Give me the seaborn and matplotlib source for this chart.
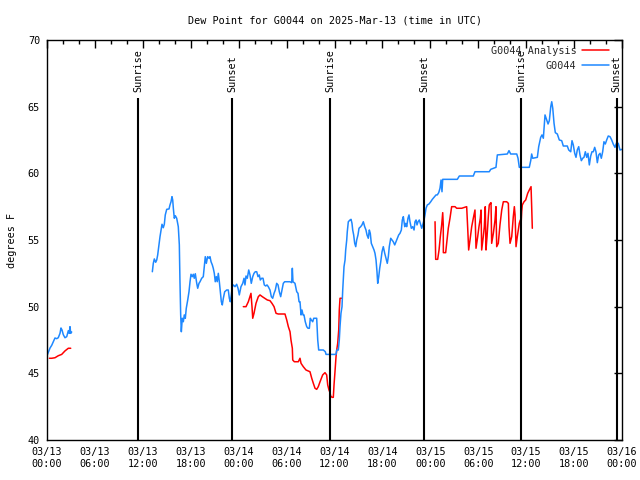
import pandas as pd
import numpy as np
import matplotlib
matplotlib.use("Agg")
import matplotlib.pyplot as plt
import matplotlib.dates as mdates
import seaborn as sns

# hours after 2025-03-13 00:00 UTC, dew point in degrees F
obs_hours_a = [0.05, 0.38, 0.59, 0.79, 1.0, 1.21, 1.41, 1.63, 1.75, 1.88, 2.04, 2.25,
               2.47, 2.67, 2.79, 2.88, 2.97, 3.09]
obs_vals_a = [46.4, 46.9, 47.1, 47.37, 47.65, 47.6, 47.67, 48.0, 48.4, 48.25, 47.9, 47.67,
              47.75, 48.2, 48.0, 48.5, 48.0, 48.1]

obs_hours_b = [13.19, 13.31, 13.44, 13.61, 13.74, 13.86, 14.02, 14.15, 14.28, 14.40, 14.56, 14.69,
               14.81, 14.99, 15.28, 15.40, 15.53, 15.65, 15.74, 15.82, 15.94, 16.07, 16.24, 16.44,
               16.57, 16.65, 16.74, 16.82, 16.94, 17.07, 17.19, 17.32, 17.44, 17.62, 17.78, 17.91,
               18.03, 18.19, 18.32, 18.44, 18.57, 18.75, 18.87, 19.03, 19.16, 19.37, 19.57, 19.70,
               19.82, 19.95, 20.12, 20.29, 20.41, 20.54, 20.70, 20.82, 20.95, 21.07, 21.20, 21.32,
               21.45, 21.58, 21.70, 21.83, 21.95, 22.08, 22.25, 22.50, 22.70, 22.83, 22.95, 23.08,
               23.20, 23.33, 23.54, 23.75, 23.92, 24.08, 24.29, 24.51, 24.67, 24.79, 24.92, 25.08,
               25.26, 25.42, 25.58, 25.76, 25.92, 26.08, 26.26, 26.42, 26.58, 26.71, 26.88, 27.05,
               27.21, 27.39, 27.55, 27.71, 27.92, 28.09, 28.26, 28.43, 28.59, 28.76, 28.93, 29.09,
               29.26, 29.43, 29.59, 29.76, 30.02, 30.43, 30.64, 30.72, 30.80, 31.05, 31.27, 31.43,
               31.56, 31.68, 31.81, 31.93, 32.06, 32.18, 32.34, 32.52, 32.68, 32.85, 32.97, 33.10,
               33.27, 33.40, 33.56, 33.77, 33.90, 34.02, 34.60, 34.85, 34.94, 36.19, 36.28, 36.48,
               36.60, 36.69, 36.81, 36.94, 37.03, 37.10, 37.19, 37.32, 37.40, 37.53, 37.60, 37.73,
               37.94, 38.07, 38.19, 38.28, 38.40, 38.53, 38.66, 38.78, 38.94, 39.07, 39.28, 39.44,
               39.61, 39.78, 39.94, 40.07, 40.23, 40.36, 40.48, 40.61, 40.78, 40.95, 41.07, 41.20,
               41.32, 41.41, 41.54, 41.66, 41.79, 41.95, 42.11, 42.29, 42.45, 42.61, 42.74, 42.86,
               43.04, 43.20, 43.36, 43.54, 43.70, 43.86, 44.04, 44.20, 44.37, 44.49, 44.62, 44.79,
               44.92, 45.04, 45.20, 45.33, 45.45, 45.62, 45.79, 45.96, 46.08, 46.21, 46.33, 46.46,
               46.62, 46.74, 46.92, 47.05, 47.21, 47.33, 47.46, 47.62, 47.83, 48.05, 48.25, 48.46,
               48.71, 48.87, 49.05, 49.21, 49.34, 49.46, 49.55, 49.71, 51.38, 51.63, 53.38, 53.59,
               55.38, 55.56, 56.22, 56.39, 57.64, 57.85, 58.06, 58.82, 58.98, 59.14, 60.39, 60.57,
               60.69, 60.82, 61.40, 61.57, 61.82, 61.98, 62.15, 62.36, 62.57, 62.74, 62.90, 63.08,
               63.20, 63.33, 63.49, 63.65, 63.90, 64.15, 64.45, 64.65, 65.15, 65.33, 65.58, 65.74,
               65.90, 66.08, 66.24, 66.40, 66.58, 66.74, 66.91, 67.08, 67.24, 67.41, 67.58, 67.74,
               67.91, 68.08, 68.24, 68.41, 68.58, 68.74, 68.91, 69.08, 69.25, 69.41, 69.58, 69.74,
               69.91, 70.08, 70.28, 70.50, 70.71, 70.90, 71.12, 71.33, 71.53, 71.75, 72.0]
obs_vals_b = [52.62, 53.25, 53.58, 53.33, 53.5, 53.88, 54.63, 55.25, 55.75, 56.18, 55.92, 56.18,
              56.88, 57.3, 57.33, 57.63, 57.87, 58.25, 58.0, 57.38, 56.63, 56.82, 56.63, 56.0,
              54.63, 51.87, 49.38, 48.12, 49.13, 48.87, 49.38, 49.13, 49.88, 50.5, 51.12, 51.87,
              52.43, 52.25, 52.43, 52.13, 52.47, 51.75, 51.38, 51.75, 51.87, 52.13, 52.25, 53.0,
              53.75, 53.25, 53.75, 53.63, 53.75, 53.37, 53.13, 52.88, 52.5, 51.87, 52.25, 51.87,
              52.5, 51.87, 51.12, 50.37, 50.13, 50.63, 51.12, 51.25, 51.25, 50.63, 50.37, 50.88,
              51.5, 51.63, 51.5, 51.68, 51.38, 50.88, 51.5, 51.75, 52.13, 51.63, 52.3, 52.13,
              52.75, 52.38, 51.75, 52.25, 52.5, 52.62, 52.62, 52.25, 52.38, 52.0, 52.13, 52.13,
              51.63, 51.55, 51.63, 51.5, 51.25, 50.75, 50.63, 51.0, 51.25, 51.75, 51.63, 51.12,
              50.75, 51.25, 51.75, 51.87, 51.87, 51.87, 51.8, 52.88, 51.87, 51.75, 51.12, 51.0,
              50.37, 50.37, 49.38, 49.75, 49.38, 49.38, 48.87, 48.5, 48.38, 48.38, 49.13, 49.0,
              48.87, 49.13, 49.13, 49.13, 47.5, 46.75, 46.75, 46.62, 46.42, 46.42, 46.75, 46.75,
              47.5, 48.5, 49.5, 50.0, 51.25, 52.0, 53.0, 53.5, 54.25, 55.0, 55.62, 56.37,
              56.5, 56.55, 56.25, 55.75, 55.38, 54.75, 54.5, 55.0, 55.38, 55.88, 56.0, 56.13,
              56.37, 56.0, 55.75, 55.38, 55.13, 55.75, 55.5, 54.75, 54.5, 54.25, 54.0, 53.5,
              52.62, 51.75, 52.25, 52.88, 53.37, 54.12, 54.5, 54.0, 53.63, 53.25, 53.75, 54.5,
              55.13, 55.0, 54.87, 54.63, 54.87, 55.13, 55.38, 55.5, 55.75, 56.5, 56.75, 56.0,
              56.25, 56.0, 56.63, 56.88, 56.37, 55.88, 56.0, 55.75, 56.37, 56.5, 56.13, 56.37,
              56.5, 56.25, 55.88, 56.13, 56.5, 56.88, 57.38, 57.63, 57.7, 57.87, 58.05, 58.2,
              58.38, 58.38, 58.55, 58.88, 59.5, 58.62, 59.55, 59.55, 59.55, 59.8, 59.8, 60.12,
              60.12, 60.3, 60.45, 61.38, 61.45, 61.7, 61.45, 61.45, 61.13, 60.45, 60.45, 60.95,
              61.45, 61.13, 61.2, 62.0, 62.7, 62.88, 62.63, 64.38, 64.0, 63.7, 63.95, 65.0,
              65.37, 64.88, 63.75, 63.05, 62.95, 62.5, 62.45, 62.05, 62.05, 61.75, 61.62, 62.45,
              62.13, 61.5, 61.2, 61.75, 62.0, 61.38, 60.95, 61.13, 61.2, 61.62, 61.2, 61.5,
              60.63, 61.3, 61.62, 61.62, 61.95, 61.62, 60.8, 61.38, 61.5, 61.13, 61.62, 62.37,
              62.2, 62.5, 62.8, 62.75, 62.5, 62.2, 61.95, 62.3, 62.25, 61.75, 61.8]

ana_hours_a = [0.3, 0.59, 1.0, 1.41, 1.84, 2.25, 2.67, 2.97]
ana_vals_a = [46.13, 46.13, 46.17, 46.32, 46.42, 46.68, 46.88, 46.88]

ana_hours_b = [24.58, 24.92, 25.21, 25.54, 25.67, 25.76, 25.92, 26.17, 26.46, 26.67, 26.96, 27.26,
               27.59, 27.92, 28.17, 28.43, 28.68, 28.96, 29.80, 30.02, 30.22, 30.43, 30.55, 30.72,
               30.77, 30.97, 31.47, 31.68, 31.81, 32.09, 32.43, 32.93, 33.15, 33.35, 33.56, 33.77,
               33.97, 34.19, 34.52, 34.81, 35.02, 35.15, 35.31, 35.44, 35.52, 35.69, 35.85, 35.94,
               36.06, 36.19, 36.28, 36.40, 36.53, 36.60, 36.69, 36.90]
ana_vals_b = [50.0, 50.0, 50.37, 51.0, 50.0, 49.13, 49.5, 50.25, 50.75, 50.88, 50.75, 50.63,
              50.5, 50.45, 50.25, 50.0, 49.5, 49.45, 49.45, 49.0, 48.5, 48.12, 47.5, 46.88,
              46.0, 45.87, 45.87, 46.13, 45.75, 45.5, 45.25, 45.12, 44.63, 44.25, 43.88, 43.8,
              44.0, 44.37, 44.88, 45.05, 44.88, 44.13, 43.75, 43.55, 43.3, 43.2, 43.2, 44.13,
              45.12, 46.25, 46.75, 47.25, 48.25, 49.75, 50.63, 50.63]

ana_hours_c = [48.59, 48.67, 48.92, 49.09, 49.25, 49.42, 49.55, 49.62, 49.63, 49.92, 50.09, 50.25,
               50.46, 50.67, 51.09, 51.30, 51.93, 52.55, 52.68, 52.80, 52.97, 53.18, 53.38, 53.59,
               53.72, 53.93, 54.09, 54.26, 54.35, 54.43, 54.63, 54.76, 54.88, 54.97, 55.10, 55.26,
               55.38, 55.51, 55.60, 55.68, 55.89, 56.10, 56.22, 56.31, 56.51, 56.72, 56.94, 57.14,
               57.56, 57.77, 57.85, 57.98, 58.19, 58.39, 58.52, 58.61, 58.73, 58.89, 59.14, 59.27,
               59.36, 59.44, 59.52, 59.73, 59.94, 60.19, 60.39, 60.61, 60.69, 60.77]
ana_vals_c = [56.37, 53.55, 53.55, 54.25, 55.25, 56.13, 57.05, 56.13, 54.05, 54.05, 55.0, 55.88,
              56.63, 57.5, 57.5, 57.38, 57.38, 57.5, 55.88, 54.25, 55.0, 56.0, 56.63, 57.25,
              54.38, 55.25, 56.0, 56.63, 57.25, 54.25, 55.25, 56.0, 57.5, 54.25, 55.25, 56.75,
              57.63, 57.75, 57.8, 54.75, 55.5, 56.5, 57.5, 54.5, 54.75, 56.13, 57.25, 57.87,
              57.87, 57.75, 56.0, 54.75, 55.25, 56.75, 57.5, 56.88, 54.5, 55.25, 56.25, 56.5,
              56.13, 57.12, 57.63, 57.87, 58.0, 58.5, 58.75, 59.0, 57.5, 55.88]

sunrise_hours = [11.43, 35.44, 59.35]
sunset_hours = [23.2, 47.25, 71.33]

start = pd.Timestamp("2025-03-13 00:00")


def to_time(hours):
    return start + pd.to_timedelta(np.array(hours), unit="h")


frames = []
segments = [
    ("G0044 Analysis", ana_hours_a, ana_vals_a),
    ("G0044 Analysis", ana_hours_b, ana_vals_b),
    ("G0044 Analysis", ana_hours_c, ana_vals_c),
    ("G0044", obs_hours_a, obs_vals_a),
    ("G0044", obs_hours_b, obs_vals_b),
]
for i, (name, hrs, vals) in enumerate(segments):
    frames.append(pd.DataFrame({"time": to_time(hrs), "dewpoint": vals,
                                "series": name, "seg": i}))
df = pd.concat(frames, ignore_index=True)

sns.set_theme(style="white")
plt.rcParams["font.family"] = ["DejaVu Sans Mono"]
plt.rcParams["font.size"] = 7.3

fig = plt.figure(figsize=(6.4, 4.8), dpi=100)
ax = fig.add_axes([47 / 640, 40 / 480, 575 / 640, 400 / 480])

sns.lineplot(data=df, x="time", y="dewpoint", hue="series", units="seg",
             estimator=None, sort=False, ax=ax, linewidth=1.1,
             hue_order=["G0044 Analysis", "G0044"],
             palette={"G0044 Analysis": "#ff0000", "G0044": "#1e88ff"})

# sunrise / sunset markers
for hrs, lab in [(sunrise_hours, "Sunrise"), (sunset_hours, "Sunset")]:
    for t in to_time(hrs):
        ax.vlines(t, 40, 65.65, color="black", linewidth=1.5)
        ax.text(t, 66.1, lab, rotation=90, ha="center", va="bottom",
                color="black", fontsize=7.3)

ax.set_xlim(start, start + pd.Timedelta(hours=72))
ax.set_ylim(40, 70)
ax.set_yticks(range(40, 71, 5))
ax.xaxis.set_major_locator(mdates.HourLocator(byhour=[0, 6, 12, 18]))
ax.xaxis.set_minor_locator(mdates.HourLocator(interval=2))
ax.xaxis.set_major_formatter(mdates.DateFormatter("%m/%d\n%H:%M"))
ax.tick_params(which="both", direction="in", top=True, right=True,
               color="black", labelcolor="black", labelsize=7.3)
ax.tick_params(which="major", length=6, width=1, pad=5)
ax.tick_params(which="minor", length=3, width=1)
for sp in ax.spines.values():
    sp.set_color("black")
    sp.set_linewidth(1)

ax.set_xlabel("")
ax.set_ylabel("degrees F", fontsize=7.3, color="black", labelpad=8)
ax.set_title("Dew Point for G0044 on 2025-Mar-13 (time in UTC)",
             fontsize=7.3, color="black", pad=12)

handles, labels = ax.get_legend_handles_labels()
ax.legend(handles, labels, loc="upper right", bbox_to_anchor=(0.977, 0.985),
          frameon=False, markerfirst=False, borderpad=0, borderaxespad=0,
          handlelength=2.6, handletextpad=0.6, labelspacing=0.45, fontsize=7.3)

fig.savefig("out.png", dpi=100)
